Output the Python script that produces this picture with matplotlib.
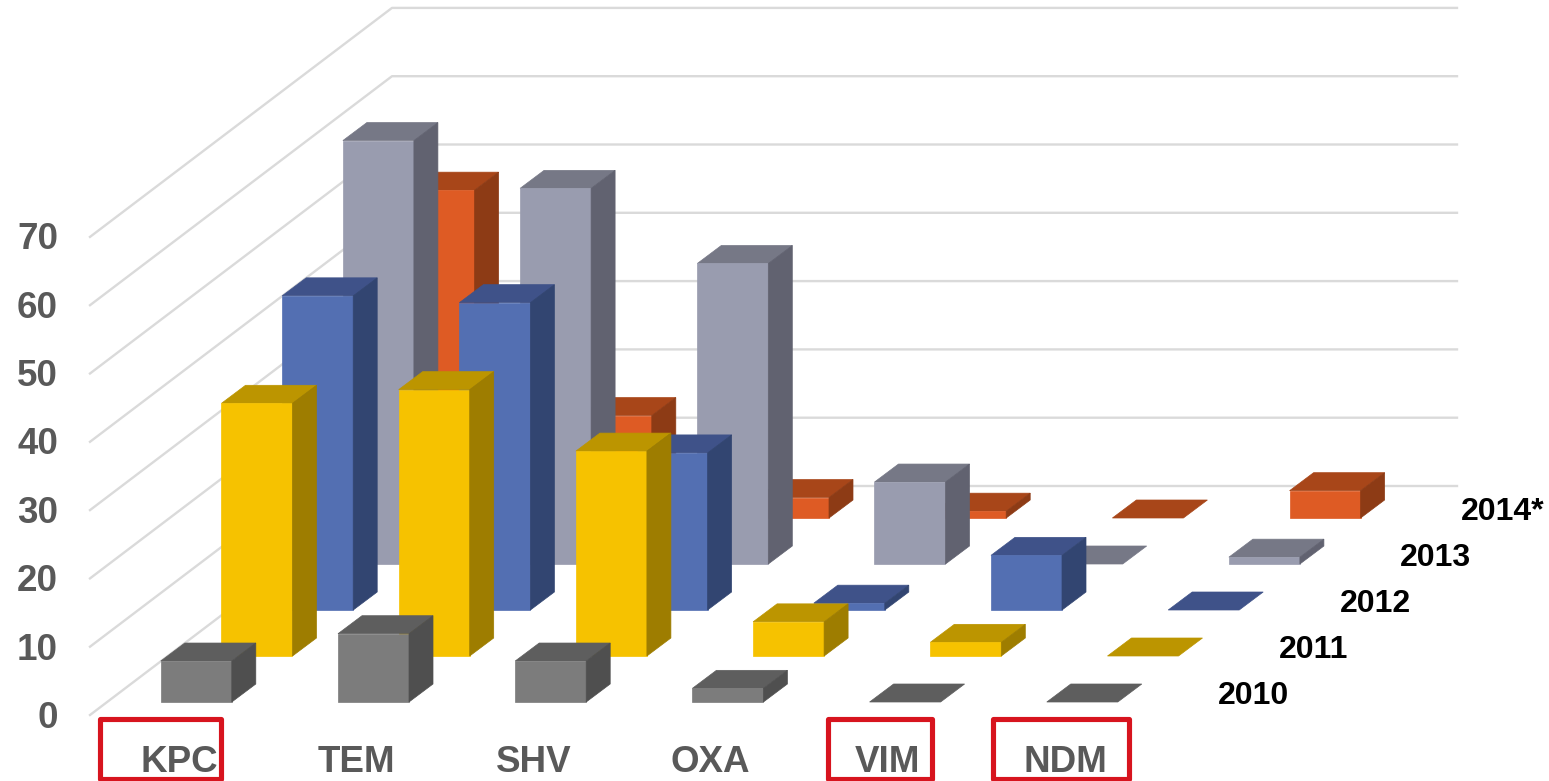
import matplotlib
matplotlib.use("Agg")
import matplotlib.pyplot as plt
from matplotlib.patches import Polygon, Rectangle

# percentage of isolates per gene and year
genes = ["KPC", "TEM", "SHV", "OXA", "VIM", "NDM"]
years = ["2010", "2011", "2012", "2013", "2014*"]
vals_2010 = [6, 10, 6, 2, 0, 0]
vals_2011 = [37, 39, 30, 5, 2, 0]
vals_2012 = [46, 45, 23, 1, 8, 0]
vals_2013 = [62, 55, 44, 12, 0, 1]
vals_2014 = [48, 15, 3, 1, 0, 4]
yticks = [0, 10, 20, 30, 40, 50, 60, 70]
highlighted = ["KPC", "VIM", "NDM"]

# front, top and side face colours for each year
front_cols = ["#7C7C7C", "#F6C200", "#536FB2", "#999CAF", "#DE5B24"]
top_cols = ["#5E5E5E", "#BC9500", "#3F5289", "#767886", "#A84619"]
side_cols = ["#4F4F4F", "#9E7D00", "#324571", "#616270", "#8D3B15"]

# oblique projection, all in pixels
X0, Y0 = 160.8, 702
GENE_DX = 177.2
YEAR_DX, YEAR_DY = 60.7, -46
BAR_W = 71
DEPTH_DX, DEPTH_DY = 24, -18
UNIT = 6.83


def corner(i, j):
    return X0 + i * GENE_DX + j * YEAR_DX, Y0 + j * YEAR_DY


def draw_bar(ax, i, j, v):
    x, y = corner(i, j)
    top = y - v * UNIT
    dx, dy = DEPTH_DX, DEPTH_DY
    faces = [([(x, top), (x + BAR_W, top), (x + BAR_W + dx, top + dy), (x + dx, top + dy)], top_cols[j])]
    # a zero value only leaves the flat top
    if v > 0:
        faces.append(([(x, y), (x + BAR_W, y), (x + BAR_W, top), (x, top)], front_cols[j]))
        faces.append(([(x + BAR_W, y), (x + BAR_W + dx, y + dy), (x + BAR_W + dx, top + dy), (x + BAR_W, top)], side_cols[j]))
    for pts, c in faces:
        ax.add_patch(Polygon(pts, closed=True, facecolor=c, edgecolor=c, linewidth=0.5))


plt.rcParams["font.family"] = ["Liberation Sans", "DejaVu Sans"]

fig = plt.figure(figsize=(15.49, 7.81), dpi=100)
ax = fig.add_axes([0, 0, 1, 1])
ax.set_xlim(0, 1549)
ax.set_ylim(781, 0)
ax.axis("off")

# walls
for t in yticks:
    y_front = 715 - t * UNIT
    y_back = 486 - t * UNIT
    ax.plot([90, 392, 1457], [y_front, y_back, y_back], color="#DADADA", linewidth=1.7, zorder=1)

# back row first so nearer bars cover it
all_vals = [vals_2010, vals_2011, vals_2012, vals_2013, vals_2014]
for j in range(len(years) - 1, -1, -1):
    for i, v in enumerate(all_vals[j]):
        draw_bar(ax, i, j, v)

for t in yticks:
    ax.text(58, 728 - t * 6.84, str(t), ha="right", va="baseline", fontsize=26.5,
            fontweight="bold", color="#595959")

for i, g in enumerate(genes):
    ax.text(179 + i * GENE_DX, 771.5, g, ha="center", va="baseline", fontsize=26.5,
            fontweight="bold", color="#595959", zorder=6)

for j, yr in enumerate(years):
    ax.text(1218 + j * YEAR_DX, 704 + j * YEAR_DY, yr, ha="left", va="baseline", fontsize=23,
            fontweight="bold", color="black")

# boxes around the carbapenemase genes
box_edges = {"KPC": (100.5, 221.5), "VIM": (828, 932), "NDM": (993.5, 1129)}
for g in highlighted:
    left, right = box_edges[g]
    ax.add_patch(Rectangle((left, 719), right - left, 60, fill=False, edgecolor="#D7141E",
                           linewidth=3.7, joinstyle="round", zorder=5))

fig.savefig("out.png", dpi=100)
